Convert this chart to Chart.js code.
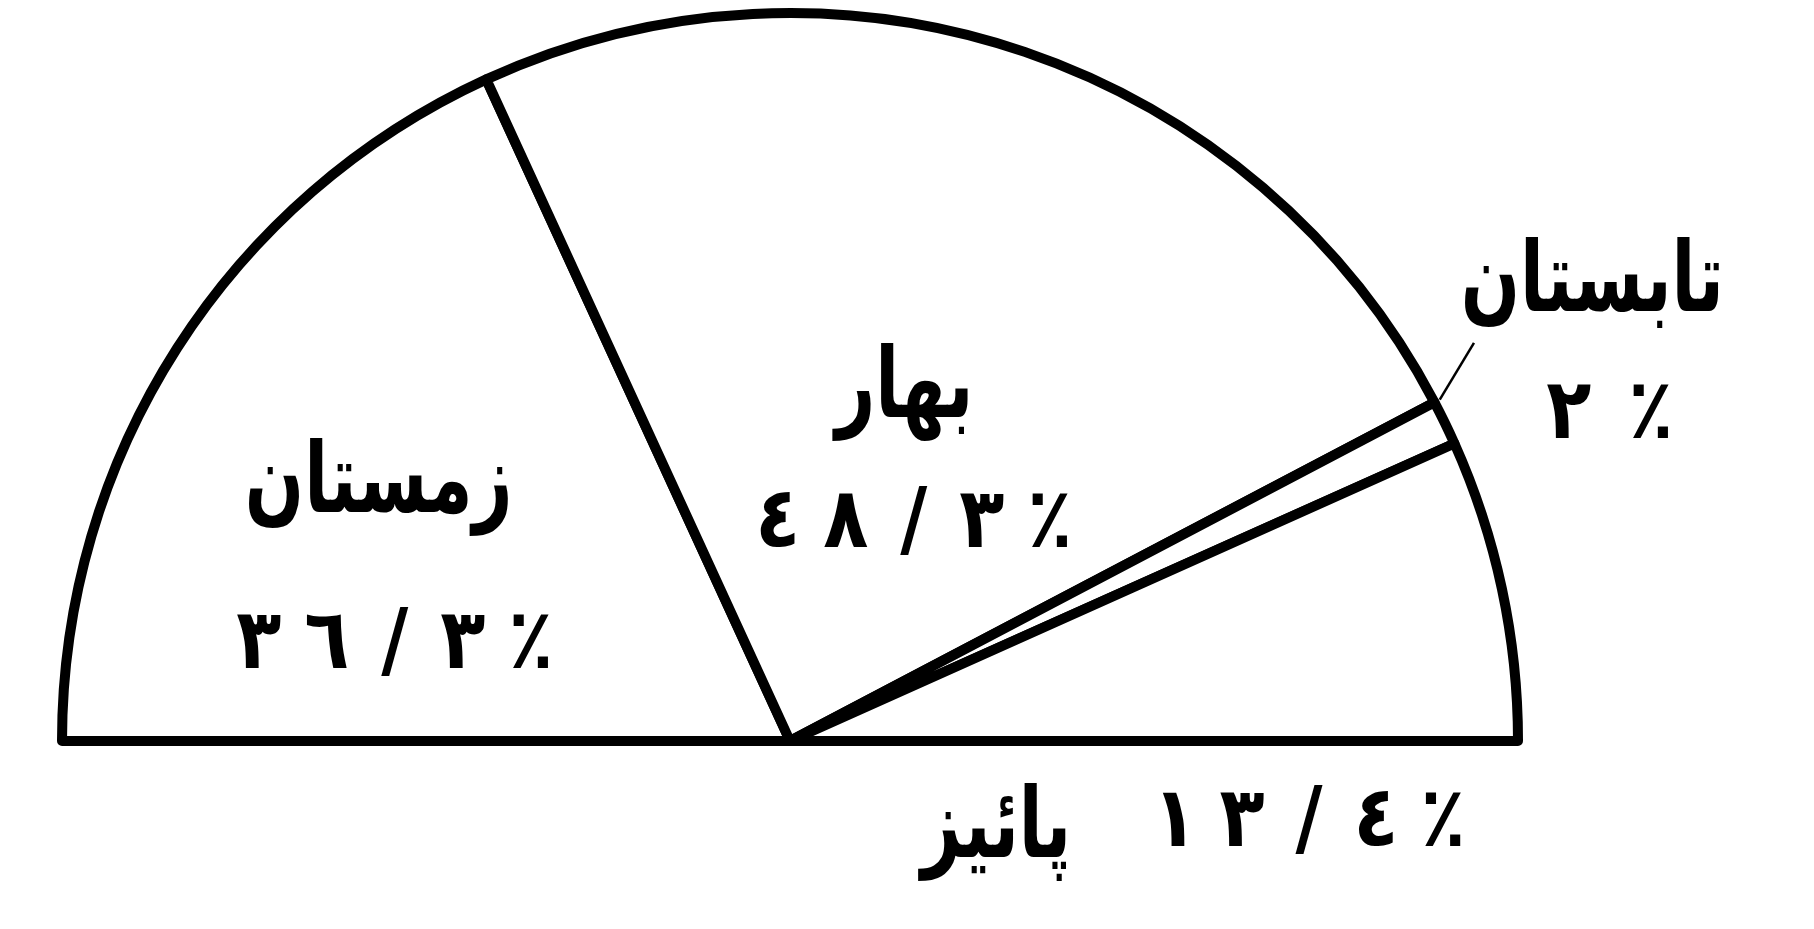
<!DOCTYPE html>
<html lang="fa">
  <head>
    <meta charset="UTF-8" />
    <title>فصل‌ها</title>
    <script src="https://cdn.jsdelivr.net/npm/chart.js"></script>
    <style>
      html, body { margin: 0; padding: 0; background: #fff; }
      #wrap { width: 1814px; height: 929px; position: relative; }
    </style>
  </head>
  <body>
    <div id="wrap"><canvas id="myChart"></canvas></div>

    <script>
      // seasons, left to right along the half circle
      const seasons = ["زمستان", "بهار", "تابستان", "پائیز"];
      const shares = [36.3, 48.3, 2, 13.4];
      const shareLabels = ["٣٦/٣٪", "٤٨/٣٪", "٢٪", "١٣/٤٪"];

      // where each label sits, in units of the radius from the arc centre
      const labelLayout = [
        { word: [-0.565, -0.35], pct: [-0.543, -0.13], pitch: 68 },
        { word: [0.157, -0.48], pct: [0.17, -0.297], pitch: 68 },
        { word: [1.102, -0.625], pct: [1.126, -0.446], pitch: 82 },
        { word: [0.283, 0.124], pct: [0.713, 0.114], pitch: 67 },
      ];

      // typewriter-like narrow glyphs: draw squeezed horizontally
      function drawNarrow(ctx, text, x, y, sx) {
        ctx.save();
        ctx.translate(x, y);
        ctx.scale(sx, 1);
        ctx.fillText(text, 0, 0);
        ctx.restore();
      }

      const seasonLabels = {
        id: "seasonLabels",
        afterDatasetsDraw(chart) {
          const meta = chart.getDatasetMeta(0);
          const arc = meta.data[0];
          const cx = arc.x, cy = arc.y, r = arc.outerRadius;
          const ctx = chart.ctx;
          ctx.save();
          ctx.fillStyle = "#000";
          ctx.textAlign = "center";
          ctx.textBaseline = "middle";

          labelLayout.forEach((lay, i) => {
            ctx.font = "bold 98px 'DejaVu Sans'";
            ctx.direction = "rtl";
            drawNarrow(ctx, seasons[i], cx + lay.word[0] * r, cy + lay.word[1] * r, 0.71);

            // digits one by one, so the bidi order stays as printed
            ctx.font = "bold 84px 'DejaVu Sans'";
            ctx.direction = "ltr";
            const chars = Array.from(shareLabels[i]);
            const px = cx + lay.pct[0] * r, py = cy + lay.pct[1] * r;
            chars.forEach((ch, j) => {
              drawNarrow(ctx, ch, px + (j - (chars.length - 1) / 2) * lay.pitch, py, 0.88);
            });
          });

          // leader line from the summer slice to its label
          const summer = meta.data[2];
          const a = summer.startAngle;
          const sx = cx + (r + 6) * Math.cos(a), sy = cy + (r + 6) * Math.sin(a);
          ctx.strokeStyle = "#000";
          ctx.lineWidth = 2.5;
          ctx.beginPath();
          ctx.moveTo(sx, sy);
          ctx.lineTo(sx + 0.047 * r, sy - 0.078 * r);
          ctx.stroke();
          ctx.restore();
        },
      };

      const ctx = document.getElementById("myChart").getContext("2d");
      new Chart(ctx, {
        type: "doughnut",
        data: {
          labels: seasons,
          datasets: [
            {
              data: shares,
              backgroundColor: "#fff",
              borderColor: "#000",
              borderWidth: 10,
              borderJoinStyle: "round",
            },
          ],
        },
        options: {
          responsive: true,
          maintainAspectRatio: false,
          animation: false,
          rotation: -90,
          circumference: 180,
          cutout: 0,
          layout: { padding: { left: 55, right: 289, top: 8, bottom: 183 } },
          plugins: {
            legend: { display: false },
            tooltip: { enabled: false },
          },
        },
        plugins: [seasonLabels],
      });
    </script>
  </body>
</html>
